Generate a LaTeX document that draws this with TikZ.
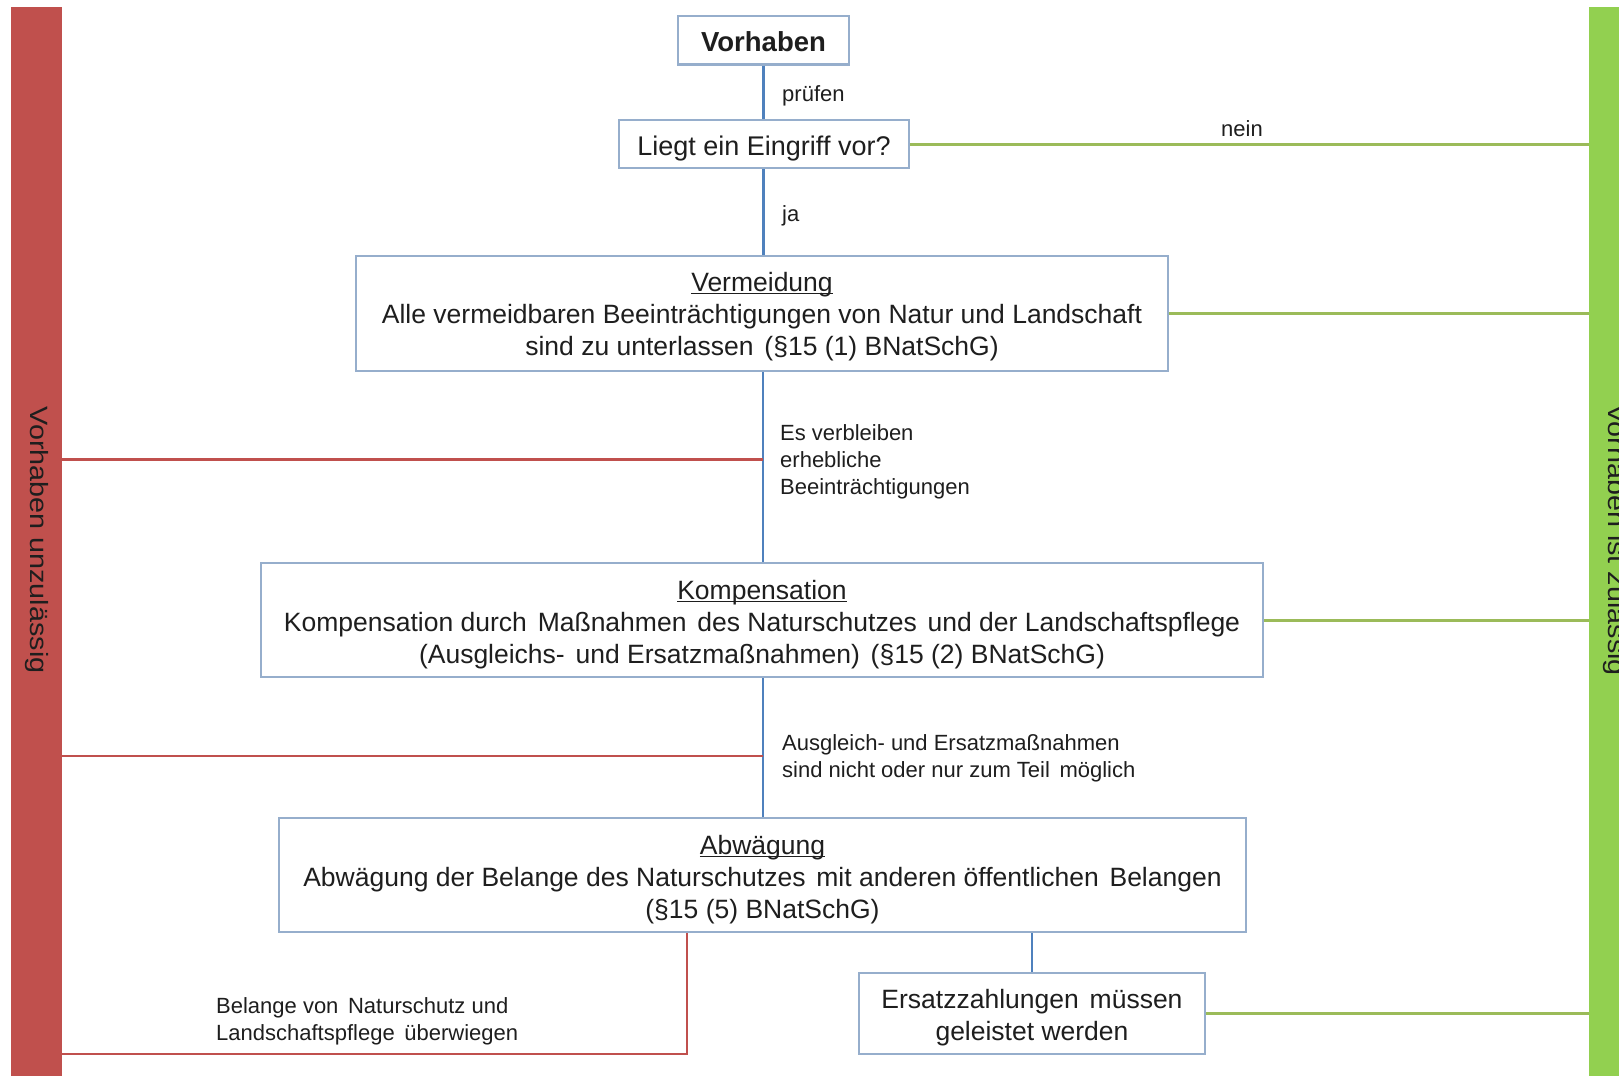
\documentclass[tikz,border=0pt]{standalone}
\usepackage{fontspec}
\setmainfont{Liberation Sans}
\definecolor{boxline}{RGB}{150,174,204}
\definecolor{flowblue}{RGB}{79,129,189}
\definecolor{barred}{RGB}{192,80,77}
\definecolor{bargreen}{RGB}{146,208,80}
\definecolor{linegreen}{RGB}{155,187,89}
\definecolor{ink}{RGB}{30,30,30}
% underline sitting just below the baseline
\newcommand\ulhead[1]{\setbox0\hbox{#1}\rlap{\rule[-2.5pt]{\wd0}{1.3pt}}\box0}
% centred lines of a box, lowered a little inside the frame
\newcommand\boxlines[2][4.5pt]{\raisebox{-#1}[\height][\depth]{\begin{tabular}{@{}c@{}}#2\end{tabular}}}
\newcommand\gap{\hspace{3.5pt}}
\tikzset{
  stepbox/.style={draw=boxline, line width=2.5pt, fill=white, text=ink,
    inner sep=0pt, font=\fontsize{26.5}{32}\selectfont},
  smalllabel/.style={text=ink, align=left, inner sep=0pt, anchor=west,
    font=\fontsize{22}{27}\selectfont},
  bartext/.style={text=ink, rotate=-90, inner sep=0pt,
    font=\fontsize{25}{30}\selectfont},
  flow/.style={draw=flowblue, line width=2.5pt},
  noway/.style={draw=barred, line width=2.5pt},
  okway/.style={draw=linegreen, line width=3pt},
}
\begin{document}
\begin{tikzpicture}[x=1pt,y=-1pt]
\useasboundingbox (0,0) rectangle (1619,1076);
\clip (0,0) rectangle (1619,1076);
\fill[white] (0,0) rectangle (1619,1076);

% side bars
\node (redbar) [fill=barred, minimum width=51pt, minimum height=1069pt,
  inner sep=0pt, anchor=north west] at (11,7) {};
\node (greenbar) [fill=bargreen, minimum width=51pt, minimum height=1069pt,
  inner sep=0pt, anchor=north west] at (1589,7) {};
\node (redtxt) [bartext] at (36.5,540) {\scalebox{1.15}[1]{Vorhaben unzulässig}};
\node (greentxt) [bartext] at (1614.5,540) {\scalebox{1.15}[1]{Vorhaben ist zulässig}};

% boxes
\node (vorh) [stepbox, minimum width=171pt, minimum height=48.5pt] at (763.5,40)
  {\boxlines[5.5pt]{\fontsize{27.5}{32}\selectfont\bfseries Vorhaben}};
\node (liegt) [stepbox, minimum width=290pt, minimum height=48pt] at (764,144)
  {\boxlines[5.5pt]{\fontsize{27}{32}\selectfont Liegt ein Eingriff vor?}};
\node (verm) [stepbox, minimum width=812pt, minimum height=115pt] at (762,313.5)
  {\boxlines[3.5pt]{\ulhead{Vermeidung}\\
   Alle vermeidbaren Beeinträchtigungen von Natur und Landschaft\\
   sind zu unterlassen\gap\ (§15 (1) BNatSchG)}};
\node (komp) [stepbox, minimum width=1002pt, minimum height=114pt] at (762,620)
  {\boxlines[5pt]{\ulhead{Kompensation}\\
   Kompensation durch\gap\ Maßnahmen\gap\ des Naturschutzes\gap\ und der Landschaftspflege\\
   (Ausgleichs-\gap\ und Ersatzmaßnahmen)\gap\ (§15 (2) BNatSchG)}};
\node (abw) [stepbox, minimum width=967pt, minimum height=114pt] at (762.5,875)
  {\boxlines[5pt]{\ulhead{Abwägung}\\
   Abwägung der Belange des Naturschutzes\gap\ mit anderen öffentlichen\gap\ Belangen\\
   (§15 (5) BNatSchG)}};
\node (ersatz) [stepbox, minimum width=346pt, minimum height=81pt] at (1032,1013.5)
  {\boxlines[5pt]{Ersatzzahlungen\gap\ müssen\\ geleistet werden}};

% junction points
\coordinate (j1) at (763,459.5);
\coordinate (j2) at (763,756);
\coordinate (b1) at (687,1054);

% main flow
\draw[flow] (vorh.south) -- (vorh.south |- liegt.north);
\draw[flow] (liegt.south -| vorh.south) -- (verm.north -| vorh.south);
\draw[flow] (verm.south -| j1) -- (komp.north -| j1);
\draw[flow] (komp.south -| j1) -- (abw.north -| j1);
\draw[flow] (abw.south -| ersatz.north) -- (ersatz.north);

% exits to "unzulässig"
\draw[noway] (j1) -- (j1 -| redbar.east);
\draw[noway] (j2) -- (j2 -| redbar.east);
\draw[noway] (abw.south -| b1) -- (b1) -- (b1 -| redbar.east);

% exits to "zulässig"
\draw[okway] (liegt.east) -- (liegt.east -| greenbar.west);
\draw[okway] (verm.east) -- (verm.east -| greenbar.west);
\draw[okway] (komp.east) -- (komp.east -| greenbar.west);
\draw[okway] (ersatz.east) -- (ersatz.east -| greenbar.west);

% labels
\node (lpruef) [smalllabel] at (782,96) {prüfen};
\node (lnein) [smalllabel, anchor=center] at (1242,129) {nein};
\node (lja) [smalllabel] at (782,216) {ja};
\node (lverb) [smalllabel] at (780,462) {Es verbleiben\\erhebliche\\Beeinträchtigungen};
\node (lausg) [smalllabel] at (782,758.5) {Ausgleich- und Ersatzmaßnahmen\\sind nicht oder nur zum Teil\gap\ möglich};
\node (lbel) [smalllabel] at (216,1021.5) {Belange von\gap\ Naturschutz und\\Landschaftspflege\gap\ überwiegen};
\end{tikzpicture}
\end{document}
